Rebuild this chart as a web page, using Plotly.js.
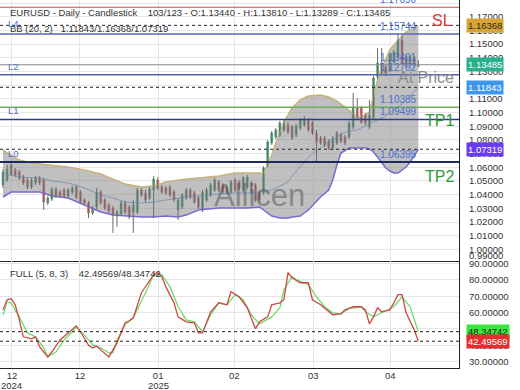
<!DOCTYPE html>
<html><head><meta charset="utf-8">
<script src="https://cdn.plot.ly/plotly-3.0.1.min.js"></script>
<style>html,body{margin:0;padding:0;background:#fff}#chart{width:520px;height:390px}</style>
</head><body><div id="chart"></div>
<script>
// ---- data ----
const openP = [1.0471,1.0507,1.0617,1.0580,1.0566,1.0529,1.0507,1.0456,1.0485,1.0522,
1.0507,1.0339,1.0368,1.0441,1.0419,1.0434,1.0390,1.0419,1.0456,1.0419,
1.0361,1.0339,1.0266,1.0310,1.0419,1.0361,1.0325,1.0303,1.0244,1.0259,
1.0339,1.0310,1.0273,1.0273,1.0434,1.0412,1.0376,1.0434,1.0507,1.0456,
1.0449,1.0456,1.0419,1.0288,1.0310,1.0376,1.0434,1.0412,1.0376,1.0288,
1.0361,1.0398,1.0434,1.0493,1.0471,1.0456,1.0419,1.0507,1.0493,1.0434,
1.0456,1.0485,1.0471,1.0412,1.0412,1.0617,1.0777,1.0821,1.0836,1.0873,
1.0909,1.0895,1.0836,1.0887,1.0909,1.0945,1.0924,1.0850,1.0814,1.0814,
1.0792,1.0741,1.0777,1.0836,1.0821,1.0821,1.0895,1.1033,1.1033,1.0982,
1.0895,1.0960,1.1260,1.1362,1.1333,1.1311,1.1369,1.1406,1.1530,1.1406,
1.1347,1.1398,1.13440];
const highP = [1.0588,1.0617,1.0646,1.0595,1.0580,1.0544,1.0522,1.0522,1.0536,1.0536,
1.0522,1.0390,1.0456,1.0456,1.0434,1.0449,1.0449,1.0463,1.0471,1.0434,
1.0376,1.0354,1.0317,1.0449,1.0434,1.0376,1.0339,1.0317,1.0288,1.0354,
1.0354,1.0325,1.0361,1.0449,1.0449,1.0434,1.0456,1.0536,1.0529,1.0471,
1.0463,1.0471,1.0434,1.0376,1.0412,1.0449,1.0449,1.0427,1.0390,1.0434,
1.0449,1.0485,1.0522,1.0507,1.0485,1.0471,1.0507,1.0522,1.0507,1.0536,
1.0544,1.0500,1.0485,1.0427,1.0609,1.0799,1.0865,1.0887,1.0938,1.0945,
1.0931,1.0909,1.0916,1.0960,1.0975,1.0960,1.0938,1.0873,1.0829,1.0829,
1.0807,1.0829,1.0865,1.0850,1.0836,1.0938,1.1143,1.1106,1.1048,1.0997,
1.1092,1.1267,1.1471,1.1471,1.1347,1.1435,1.1457,1.1574,1.1566,1.1420,
1.1420,1.1413,1.13810];
const lowP = [1.0449,1.0493,1.0536,1.0529,1.0507,1.0471,1.0441,1.0441,1.0471,1.0471,
1.0288,1.0325,1.0354,1.0376,1.0376,1.0376,1.0376,1.0405,1.0368,1.0332,
1.0325,1.0229,1.0251,1.0295,1.0325,1.0288,1.0266,1.0120,1.0164,1.0244,
1.0259,1.0222,1.0120,1.0259,1.0383,1.0346,1.0361,1.0229,1.0434,1.0405,
1.0398,1.0383,1.0346,1.0215,1.0295,1.0361,1.0368,1.0332,1.0295,1.0273,
1.0346,1.0383,1.0419,1.0419,1.0405,1.0398,1.0405,1.0419,1.0434,1.0419,
1.0441,1.0405,1.0346,1.0346,1.0398,1.0602,1.0763,1.0807,1.0821,1.0858,
1.0843,1.0799,1.0821,1.0873,1.0895,1.0858,1.0836,1.0631,1.0763,1.0748,
1.0726,1.0726,1.0763,1.0777,1.0763,1.0807,1.0880,1.0945,1.0916,1.0909,
1.0880,1.0945,1.1245,1.1274,1.1267,1.1296,1.1355,1.1391,1.1347,1.1333,
1.1333,1.1333,1.13289];
const closeP = [1.0566,1.0588,1.0551,1.0544,1.0522,1.0485,1.0456,1.0507,1.0522,1.0485,
1.0346,1.0376,1.0441,1.0390,1.0390,1.0390,1.0434,1.0449,1.0383,1.0346,
1.0339,1.0266,1.0303,1.0419,1.0339,1.0303,1.0281,1.0251,1.0273,1.0339,
1.0273,1.0237,1.0325,1.0434,1.0398,1.0361,1.0441,1.0514,1.0449,1.0419,
1.0412,1.0398,1.0361,1.0361,1.0398,1.0434,1.0383,1.0346,1.0310,1.0419,
1.0434,1.0471,1.0507,1.0434,1.0419,1.0412,1.0493,1.0434,1.0449,1.0522,
1.0529,1.0419,1.0361,1.0361,1.0595,1.0785,1.0850,1.0873,1.0924,1.0924,
1.0858,1.0814,1.0902,1.0945,1.0945,1.0873,1.0850,1.0785,1.0777,1.0763,
1.0741,1.0814,1.0850,1.0792,1.0777,1.0924,1.1040,1.0960,1.0931,1.0924,
1.0982,1.1252,1.1362,1.1289,1.1289,1.1420,1.1442,1.1530,1.1362,1.1347,
1.1406,1.1347,1.13485];

const bbIdx = [0,2,4,7,9,12,16,20,24,27,30,34,37,40,43,45,48,50,53,57,60,63,64,65,66,67,68,69,70,71,73,75,78,80,81,82,83,85,87,89,90,91,92,93,94,95,96,97,98,99,100,101,102];
const bbUpper = [1.0726,1.0690,1.0653,1.0631,1.0624,1.0617,1.0602,1.0580,1.0551,1.0514,1.0478,1.0456,1.0463,1.0493,1.0507,1.0514,1.0522,1.0529,1.0536,1.0558,1.0558,1.0558,1.0551,1.0617,1.0690,1.0777,1.0858,1.0931,1.0982,1.1033,1.1092,1.1121,1.1128,1.1113,1.1099,1.1084,1.1062,1.1018,1.0967,1.0982,1.1004,1.1128,1.1238,1.1325,1.1398,1.1457,1.1493,1.1530,1.1559,1.1588,1.1603,1.1617,1.16368];
const bbMiddle = [1.0551,1.0544,1.0529,1.0522,1.0522,1.0500,1.0485,1.0449,1.0398,1.0376,1.0346,1.0339,1.0346,1.0361,1.0376,1.0383,1.0390,1.0398,1.0405,1.0412,1.0412,1.0419,1.0419,1.0427,1.0434,1.0449,1.0463,1.0478,1.0493,1.0536,1.0609,1.0675,1.0741,1.0777,1.0799,1.0821,1.0843,1.0865,1.0873,1.0902,1.0916,1.0931,1.0945,1.0960,1.0975,1.0997,1.1018,1.1040,1.1062,1.1092,1.1121,1.1150,1.11843];
const bbLower = [1.0383,1.0419,1.0419,1.0419,1.0419,1.0390,1.0376,1.0325,1.0273,1.0251,1.0244,1.0237,1.0237,1.0244,1.0237,1.0251,1.0288,1.0295,1.0303,1.0303,1.0303,1.0310,1.0288,1.0266,1.0244,1.0237,1.0229,1.0229,1.0229,1.0237,1.0244,1.0288,1.0383,1.0434,1.0507,1.0617,1.0704,1.0741,1.0741,1.0741,1.0734,1.0712,1.0675,1.0631,1.0595,1.0573,1.0558,1.0558,1.0580,1.0602,1.0639,1.0683,1.07319];

const kIdx = [0,1,2,3,4,5,7,8,9,11,12,14,16,18,19,21,22,23,24,26,28,30,31,32,34,37,38,39,40,42,43,45,47,48,49,51,53,54,55,56,58,60,62,63,65,66,68,69,70,71,73,75,76,78,80,81,83,84,86,88,89,90,91,92,93,95,96,97,98,99,101,102];
const kVal = [61.7,67.9,68.5,64.8,55.6,45.2,43.9,45.2,39.0,32.9,35.9,43.3,47.6,51.9,48.3,40.2,38.4,39.6,37.2,32.9,41.5,53.8,55.0,56.8,72.2,83.2,84.5,82.0,75.9,66.0,57.4,54.4,53.8,47.6,47.6,60.5,66.0,65.4,64.8,72.8,69.7,63.0,50.1,54.4,57.4,64.8,66.0,67.9,84.5,81.4,78.3,78.3,67.9,64.8,60.5,58.7,59.3,61.7,63.6,63.6,61.7,53.1,57.4,63.0,60.5,61.7,66.0,71.0,71.0,59.9,49.5,42.49569];
const dIdx = [0,1,2,4,6,8,10,11,13,15,17,18,20,22,24,26,27,28,30,32,35,37,39,41,43,45,47,49,51,53,55,57,59,61,63,66,68,69,71,72,75,77,79,81,83,85,88,89,91,93,96,98,100,102];
const dVal = [58.7,66.7,66.0,57.4,47.6,45.2,38.4,32.9,35.9,43.3,48.3,51.3,46.4,40.2,38.4,35.3,35.3,43.3,52.5,56.8,72.2,83.2,83.2,75.9,63.6,55.6,54.4,48.3,58.7,66.0,64.8,71.0,67.9,58.7,53.1,57.4,63.0,74.0,82.0,80.2,77.1,69.7,63.6,59.9,59.3,62.4,63.6,60.5,57.4,59.9,63.6,69.7,63.6,48.34742];

const tickIdx = [2.2,18.9,38.1,56.8,76.2,95.1];
const tickText = ['12','12','01','02','03','04'];
const yearIdx = [2.2,38.1];
const yearText = ['2024','2025'];

const levelPrices = [1.17690,1.15744,1.13491,1.12762,1.10385,1.09499,1.06395];
const levelLabels = ['1.17690','1.15744','1.13491','1.12762','1.10385','1.09499','1.06395'];
const bbLast = [1.16368,1.11843,1.07319];
const stochLast = [48.34742,42.49569];

// ---- drawing ----
const W = 459, H = 368;
const PX = x => x / W, PY = y => (H - y) / H;
const idx = openP.map((_, i) => i);

const wx = [], wy = [];
idx.forEach(i => { wx.push(i, i, null); wy.push(lowP[i], highP[i], null); });

const traces = [
  {type:'scatter', mode:'lines', x:bbIdx, y:bbLower, line:{color:'#7a6ad0', width:1.5}, xaxis:'x', yaxis:'y', hoverinfo:'skip'},
  {type:'scatter', mode:'lines', x:bbIdx, y:bbUpper, line:{color:'#c9b27a', width:1.5}, fill:'tonexty', fillcolor:'rgba(140,140,140,0.55)', xaxis:'x', yaxis:'y', hoverinfo:'skip'},
  {type:'scatter', mode:'lines', x:bbIdx, y:bbMiddle, line:{color:'#7f98b8', width:1}, xaxis:'x', yaxis:'y', hoverinfo:'skip'},
  {type:'scatter', mode:'lines', x:wx, y:wy, line:{color:'#6b6b6b', width:1}, xaxis:'x', yaxis:'y', hoverinfo:'skip', connectgaps:false},
  {type:'candlestick', x:idx, open:openP, high:openP.map((o,i)=>Math.max(o,closeP[i])), low:openP.map((o,i)=>Math.min(o,closeP[i])), close:closeP,
   increasing:{line:{color:'#35a47a', width:0.5}, fillcolor:'#35a47a'},
   decreasing:{line:{color:'#d9585a', width:0.5}, fillcolor:'#d9585a'},
   xaxis:'x', yaxis:'y', hoverinfo:'skip'},
  {type:'scatter', mode:'lines', x:dIdx, y:dVal, line:{color:'#6fdc6f', width:1.3}, xaxis:'x2', yaxis:'y2', hoverinfo:'skip'},
  {type:'scatter', mode:'lines', x:kIdx, y:kVal, line:{color:'#cf4646', width:1.3}, xaxis:'x2', yaxis:'y2', hoverinfo:'skip'}
];

const levelColors = ['#cf4a4a','#5a64b4','#8a8a8a','#5262b8','#6cae5c','#2c3a8c','#1c2a5c'];
const levelWidths = [1,1.5,1,1.5,1.5,1.5,2];
const shapes = levelPrices.map((p,k)=>({type:'line', xref:'paper', x0:0, x1:1, yref:'y', y0:p, y1:p, line:{color:levelColors[k], width:levelWidths[k]}, layer:'above'}));
bbLast.forEach(p=>shapes.push({type:'line', xref:'paper', x0:0, x1:1, yref:'y', y0:p, y1:p, line:{color:'#222', width:1, dash:'3px,3px'}, layer:'above'}));
stochLast.forEach(p=>shapes.push({type:'line', xref:'paper', x0:0, x1:1, yref:'y2', y0:p, y1:p, line:{color:'#222', width:1, dash:'3px,3px'}, layer:'above'}));

const F = 'Liberation Sans, Arial, sans-serif';
const ann = [];
const txt = (x,y,t,o={}) => ann.push(Object.assign({xref:'paper', yref:'paper', x:PX(x), y:PY(y), text:t, showarrow:false, xanchor:'left', yanchor:'middle', font:{family:F, size:9.5, color:'#333'}}, o));

txt(8,12,'EURUSD - Daily - Candlestick    103/123 - O:1.13440 - H:1.13810 - L:1.13289 - C:1.13485');
txt(8,29,'BB (20, 2)   1.11843/1.16368/1.07319');
txt(8,273,'FULL (5, 8, 3)    42.49569/48.34742');
[['L4',23],['L2',66],['L1',110],['L0',153]].forEach(([t,y])=>txt(6,y,t,{font:{family:F,size:9.5,color:'#4a6fd0'}}));
levelPrices.forEach((p,k)=>ann.push({xref:'paper', x:PX(419), yref:'y', y:p, text:levelLabels[k], showarrow:false, xanchor:'right', yanchor:'bottom', font:{family:F, size:10, color:'#4a6fd0'}}));
txt(442,20,'SL',{xanchor:'center', font:{family:F,size:16,color:'#d63a3a'}});
txt(439,120,'TP1',{xanchor:'center', font:{family:F,size:16,color:'#2e9a3a'}});
txt(439,176,'TP2',{xanchor:'center', font:{family:F,size:16,color:'#2e9a3a'}});
txt(426,77,'At Price',{xanchor:'center', font:{family:F,size:16,color:'#8a8a8a'}});
txt(259,195,'Allicen',{xanchor:'center', font:{family:F,size:31,color:'rgba(85,85,85,0.55)'}});
txt(467,255,'0.99000');
yearIdx.forEach((v,k)=>ann.push({xref:'x2', x:v, yref:'paper', y:PY(385), text:yearText[k], showarrow:false, xanchor:'center', yanchor:'middle', font:{family:F, size:9.5, color:'#333'}}));

const box = (yref,v,t,bg,fc)=>ann.push({xref:'paper', x:1, xshift:7, yref:yref, y:v, text:t, showarrow:false, xanchor:'left', yanchor:'middle', bgcolor:bg, borderpad:1, font:{family:F, size:9.5, color:fc}});
box('y',1.16368,'1.16368','#d9a434','#2a2a2a');
box('y',1.13485,'1.13485','#2bb08e','#ffffff');
box('y',1.11843,'1.11843','#3d97ea','#ffffff');
box('y',1.07319,'1.07319','#6a3cef','#ffffff');
box('y2',48.34742,'48.34742','#3de63d','#1a1a1a');
box('y2',42.49569,'42.49569','#e52d2d','#ffffff');

const split = (H-260.7)/H;
const xcommon = {tickmode:'array', tickvals:tickIdx, showgrid:true, gridcolor:'#e6e6e6', zeroline:false, showline:true, linecolor:'#222', linewidth:1, range:[-0.74,112.0], fixedrange:true};
const layout = {
  width:520, height:390, margin:{l:0, r:61, t:0, b:22, pad:0},
  paper_bgcolor:'#fff', plot_bgcolor:'#fff', showlegend:false, hovermode:false,
  xaxis:Object.assign({}, xcommon, {anchor:'y', showticklabels:false, rangeslider:{visible:false}}),
  xaxis2:Object.assign({}, xcommon, {anchor:'y2', matches:'x', ticktext:tickText, tickfont:{family:F,size:9.5,color:'#333'}, ticks:'', ticklabelstandoff:-1}),
  yaxis:{domain:[split,1], range:[0.99177,1.18220], side:'right', tick0:1, dtick:0.01, tickformat:'.5f', showgrid:true, gridcolor:'#e6e6e6', zeroline:false, showline:true, linecolor:'#222', linewidth:1, ticks:'', ticklabelstandoff:7, tickfont:{family:F,size:9.5,color:'#333'}, fixedrange:true},
  yaxis2:{domain:[0,split], range:[26.1,91.8], side:'right', tick0:0, dtick:10, tickformat:'.5f', showgrid:true, gridcolor:'#e6e6e6', zeroline:false, showline:true, linecolor:'#222', linewidth:1, ticks:'', ticklabelstandoff:7, tickfont:{family:F,size:9.5,color:'#333'}, fixedrange:true},
  shapes:shapes, annotations:ann
};
Plotly.newPlot('chart', traces, layout, {staticPlot:true, displayModeBar:false});
</script></body></html>
